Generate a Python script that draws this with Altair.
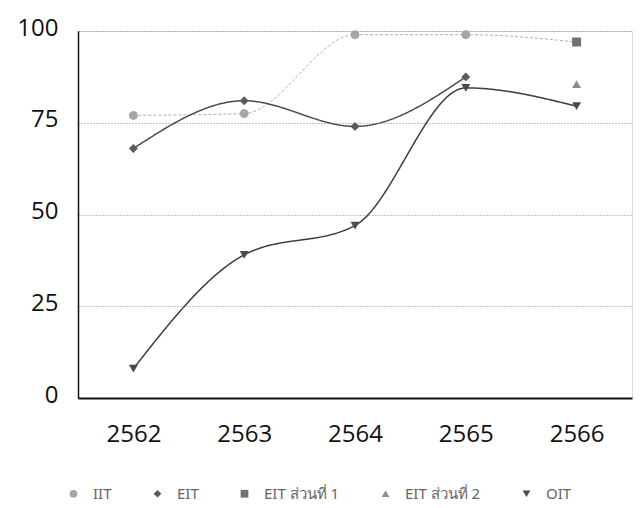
import altair as alt
import pandas as pd

years = ["2562", "2563", "2564", "2565", "2566"]
series_names = ["IIT", "EIT", "EIT ส่วนที่ 1", "EIT ส่วนที่ 2", "OIT"]
iit = [77, 77.5, 99, 99, 97]
eit = [68, 81, 74, 87.5, None]
eit1 = [None, None, None, None, 97]
eit2 = [None, None, None, None, 85.5]
oit = [8, 39, 47, 84.5, 79.5]

values = [iit, eit, eit1, eit2, oit]
rows = []
for name, vals in zip(series_names, values):
    for y, v in zip(years, vals):
        if v is not None:
            rows.append({"year": y, "series": name, "value": v})
df = pd.DataFrame(rows)

# IIT's 2566 point is hidden under the EIT ส่วนที่ 1 square
marker_idx = {"IIT": [0, 1, 2, 3], "EIT": [0, 1, 2, 3], "EIT ส่วนที่ 1": [4],
              "EIT ส่วนที่ 2": [4], "OIT": [0, 1, 2, 3, 4]}
pts = []
for name, vals in zip(series_names, values):
    for i in marker_idx[name]:
        pts.append({"year": years[i], "series": name, "value": vals[i]})
dfp = pd.DataFrame(pts)

line_colors = ["#b0b0b0", "#4a4a4a", "#6e6e6e", "#888888", "#3c3c3c"]
marker_colors = ["#a6a6a6", "#5a5a5a", "#707070", "#8c8c8c", "#4a4a4a"]
shapes = ["circle", "diamond", "square", "triangle-up", "triangle-down"]

x = alt.X("year:O", sort=years, title=None,
          scale=alt.Scale(type="point", padding=0.5),
          axis=alt.Axis(labelAngle=0, labelFontSize=24, labelColor="#111",
                        labelPadding=24, ticks=False, domainColor="#111",
                        domainWidth=2, grid=False, labelFont="Open Sans"))
y = alt.Y("value:Q", title=None,
          scale=alt.Scale(domain=[0, 100], nice=False),
          axis=alt.Axis(values=[0, 25, 50, 75, 100], labelFontSize=24,
                        labelColor="#111", labelPadding=20, ticks=False,
                        labelOffset=-3,
                        domainColor="#111", domainWidth=1.5, grid=True,
                        gridColor="#8a8a8a", gridDash=[1, 2], gridWidth=1,
                        labelFont="Open Sans"))

color = alt.Color("series:N", sort=series_names,
                  scale=alt.Scale(domain=series_names, range=marker_colors),
                  legend=alt.Legend(orient="none", legendX=-12, legendY=455,
                                    direction="horizontal", title=None,
                                    labelFontSize=15, labelColor="#666",
                                    labelFont="Noto Sans", symbolSize=60,
                                    labelOffset=12, columnPadding=38,
                                    symbolStrokeWidth=1))
shape = alt.Shape("series:N", sort=series_names,
                  scale=alt.Scale(domain=series_names, range=shapes))

lines = []
for name, lc in zip(series_names, line_colors):
    if name in ("EIT ส่วนที่ 1", "EIT ส่วนที่ 2"):
        continue
    dash = [3, 2] if name == "IIT" else [1, 0]
    w = 1 if name == "IIT" else 1.5
    lines.append(
        alt.Chart(df).transform_filter(alt.datum.series == name)
        .mark_line(interpolate="monotone", color=lc, strokeWidth=w, strokeDash=dash)
        .encode(x=x, y=y)
    )

points = alt.Chart(dfp).mark_point(filled=True, size=80, opacity=1).encode(
    x=x, y=y, color=color, shape=shape
)

chart = alt.layer(*lines, points).properties(
    width=554, height=367,
    padding={"left": 70, "top": 23, "right": 2, "bottom": 108},
    autosize=alt.AutoSizeParams(type="none"),
).configure_view(stroke=None).configure(background="white")

chart.save("out.html", embed_options={"renderer": "svg", "actions": False})
